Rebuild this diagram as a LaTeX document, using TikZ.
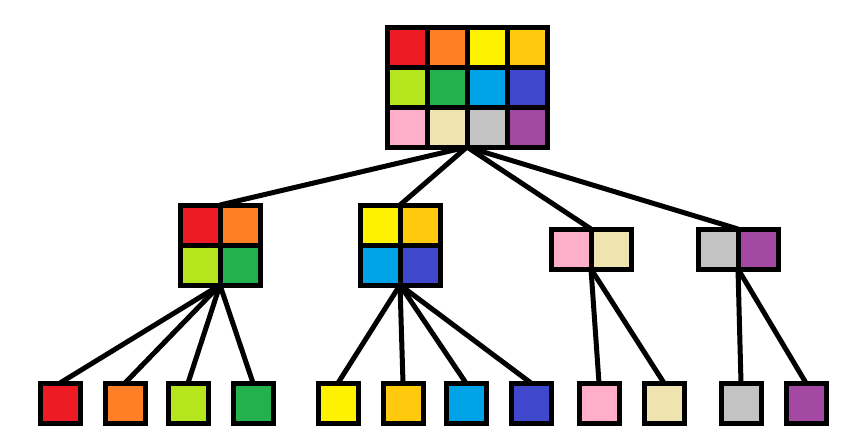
\documentclass[tikz,border=0pt]{standalone}
\usetikzlibrary{fit,backgrounds}

\definecolor{cRed}{HTML}{ED1C24}
\definecolor{cOrange}{HTML}{FF7F27}
\definecolor{cYellow}{HTML}{FFF200}
\definecolor{cGold}{HTML}{FFC90E}
\definecolor{cLime}{HTML}{B5E61D}
\definecolor{cGreen}{HTML}{22B14C}
\definecolor{cCyan}{HTML}{00A2E8}
\definecolor{cBlue}{HTML}{3F48CC}
\definecolor{cPink}{HTML}{FFAEC9}
\definecolor{cCream}{HTML}{EFE4B0}
\definecolor{cGray}{HTML}{C3C3C3}
\definecolor{cPurple}{HTML}{A349A4}

\begin{document}
\begin{tikzpicture}[
    x=1pt, y=-1pt,
    cell/.style={
       draw=black, line width=5pt,
       minimum size=40pt, inner sep=0pt,
       outer sep=0pt
        },
    groupbox/.style={inner sep=0pt, outer sep=0pt},
    wire/.style={line width=5pt}]

\useasboundingbox (0,0) rectangle (846,445);

% root grid
\foreach [count=\k from 0] \c in {cRed,cOrange,cYellow,cGold,cLime,cGreen,cCyan,cBlue,cPink,cCream,cGray,cPurple} {
   \pgfmathtruncatemacro\r{div(\k,4)}
   \pgfmathtruncatemacro\q{mod(\k,4)}
   \node[cell, fill=\c] (r-\k) at (407+40*\q, 47+40*\r) {};
  }
\node[groupbox, fit=(r-0)(r-11)] (root) {};

% middle groups
\foreach \g/\px/\py/\last/\cols in {1/200/225/3/{cRed,cOrange,cLime,cGreen},
                                   2/380/225/3/{cYellow,cGold,cCyan,cBlue},
                                   3/571/249/1/{cPink,cCream},
                                   4/718/249/1/{cGray,cPurple}} {
   \foreach [count=\k from 0] \c in \cols {
      \pgfmathtruncatemacro\r{div(\k,2)}
      \pgfmathtruncatemacro\q{mod(\k,2)}
      \node[cell, fill=\c] (m\g-\k) at (\px+40*\q, \py+40*\r) {};
     }
   \node[groupbox, fit=(m\g-0)(m\g-\last)] (mid\g) {};
  }

% leaves
\foreach [count=\k] \px/\c in {60/cRed,125/cOrange,188/cLime,253/cGreen,
                               338/cYellow,403/cGold,466/cCyan,531/cBlue,
                               599/cPink,664/cCream,741/cGray,806/cPurple} {
   \node[cell, fill=\c] (leaf-\k) at (\px,403) {};
  }

\begin{scope}[on background layer]
\foreach \g in {1,...,4} {
   \draw[wire] (root.south) -- (mid\g.north);
  }
\foreach \g/\a/\b in {1/1/4, 2/5/8, 3/9/10, 4/11/12} {
   \foreach \k in {\a,...,\b} {
      \draw[wire] (mid\g.south) -- (leaf-\k.north);
     }
  }
\end{scope}
\end{tikzpicture}
\end{document}
